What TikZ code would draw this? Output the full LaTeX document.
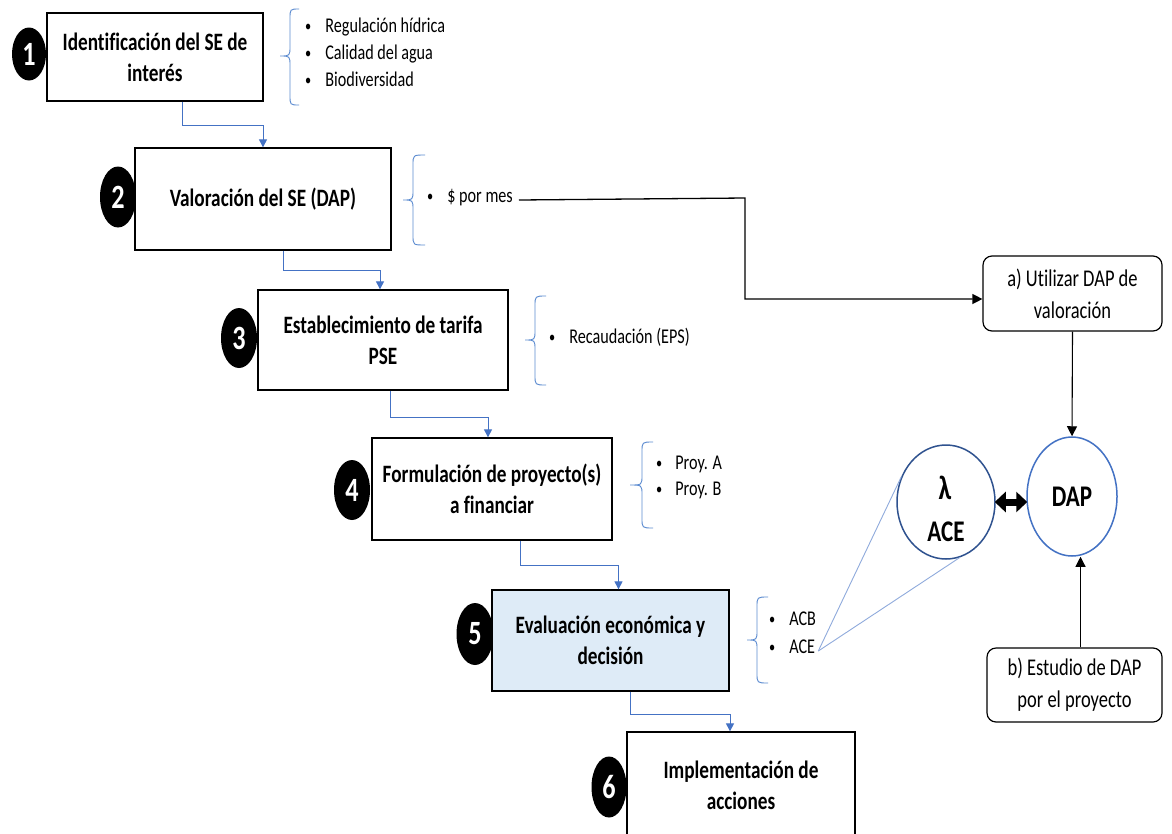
\documentclass[tikz,border=0pt]{standalone}
\usepackage{fontspec}
\setmainfont{Carlito}[FakeStretch=0.77,Ligatures=NoCommon]
\usetikzlibrary{shapes.geometric,arrows.meta}
\definecolor{arrblue}{HTML}{4472C4}
\definecolor{brblue}{HTML}{5B8BD0}
\definecolor{lnblue}{HTML}{8FAADC}
\definecolor{navyc}{HTML}{2F528F}
\definecolor{fillb}{HTML}{DEEBF7}
\newcommand\sebrace[6]{\draw[brc] (#3,#4) .. controls (#2,#4) .. (#2,#4+10) -- (#2,#5-10) .. controls (#2,#5) .. (#1,#5) .. controls (#2,#5) .. (#2,#5+10) -- (#2,#6-10) .. controls (#2,#6) .. (#3,#6);}
\newcommand\smbul{{\fontsize{16}{16}\selectfont\raisebox{1.2pt}{•}}}
\tikzset{
  stepbox/.style={draw=black, line width=1.3pt, fill=white, align=center, inner sep=2pt,
    font=\fontsize{25}{31}\selectfont\bfseries},
  numc/.style={ellipse, fill=black, text=white, inner sep=0pt,
    font=\fontsize{34}{34}\selectfont\bfseries},
  optbox/.style={draw=black, line width=1.2pt, rounded corners=9pt, fill=white, align=center,
    font=\fontsize{24}{32}\selectfont},
  blt/.style={anchor=west, inner sep=0pt, text height=0.7em, text depth=0.2em,
    font=\fontsize{21}{26}\selectfont},
  brc/.style={draw=brblue, line width=0.9pt},
  bluearr/.style={draw=arrblue, line width=1pt, -{Triangle[length=8pt,width=8pt]}},
  blackarr/.style={draw=black, line width=1.4pt, -{Triangle[length=10pt,width=10pt]}},
  zoomln/.style={draw=lnblue, line width=0.9pt},
}
\begin{document}
\begin{tikzpicture}[x=1pt,y=-1pt]
\useasboundingbox (0,0) rectangle (1172,833);
\fill[white] (0,0) rectangle (1172,833);

% number circles
\node[numc, minimum width=34pt, minimum height=53pt] (n1) at (29,54) {1};
\node[numc, minimum width=36pt, minimum height=61pt] (n2) at (118,197) {2};
\node[numc, minimum width=36pt, minimum height=60pt] (n3) at (239,338) {3};
\node[numc, minimum width=36pt, minimum height=60pt] (n4) at (352,490) {4};
\node[numc, minimum width=37pt, minimum height=62pt] (n5) at (475,634) {5};
\node[numc, minimum width=35pt, minimum height=61pt] (n6) at (609,787) {6};

% step boxes
\node[stepbox, minimum width=216pt, minimum height=88pt] (b1) at (155,57) {Identificación del SE de\\interés};
\node[stepbox, minimum width=256pt, minimum height=102pt] (b2) at (263,199) {Valoración del SE (DAP)};
\node[stepbox, minimum width=250pt, minimum height=100pt] (b3) at (383,340) {Establecimiento de tarifa\\PSE};
\node[stepbox, minimum width=240pt, minimum height=102pt] (b4) at (492,489) {Formulación de proyecto(s)\\a financiar};
\node[stepbox, fill=fillb, minimum width=237pt, minimum height=101pt] (b5) at (610.5,640.5) {Evaluación económica y\\decisión};
\node[stepbox, minimum width=228pt, minimum height=120pt, text depth=0pt] (b6) at (741,792) {};
\node[font=\fontsize{25}{31}\selectfont\bfseries, align=center, inner sep=0pt] (t6) at (741,785) {Implementación de\\acciones};

% step connectors
\draw[bluearr] ([xshift=27pt]b1.south) -- ++(0,24) -| (b2.north);
\draw[bluearr] ([xshift=20pt]b2.south) -- ++(0,20) -| ([xshift=-3pt]b3.north);
\draw[bluearr] ([xshift=7pt]b3.south) -- ++(0,27) -| ([xshift=-4pt]b4.north);
\draw[bluearr] ([xshift=28pt]b4.south) -- ++(0,25) -| ([xshift=8pt]b5.north);
\draw[bluearr] ([xshift=20pt]b5.south) -- ++(0,23) -| ([xshift=-11pt]b6.north);

% braces
\sebrace{280}{290}{299}{9}{56}{105}
\sebrace{403}{413}{425}{155}{200}{245}
\sebrace{525}{535}{546}{296}{340}{385}
\sebrace{630}{642}{653}{442}{485}{528}
\sebrace{747}{757}{768}{597}{640}{683}

% bullet lists
\node[blt] (l1a) at (305,30) {\smbul\hspace{14pt}Regulación hídrica};
\node[blt] (l1b) at (305,57) {\smbul\hspace{14pt}Calidad del agua};
\node[blt] (l1c) at (305,84) {\smbul\hspace{14pt}Biodiversidad};
\node[blt] (l2a) at (427,200) {\smbul\hspace{14pt}\$ por mes};
\node[blt] (l3a) at (549,341) {\smbul\hspace{14pt}Recaudación (EPS)};
\node[blt] (l4a) at (656,467) {\smbul\hspace{13pt}Proy. A};
\node[blt] (l4b) at (656,493) {\smbul\hspace{13pt}Proy. B};
\node[blt] (l5a) at (769,623) {\smbul\hspace{14pt}ACB};
\node[blt] (l5b) at (769,651) {\smbul\hspace{14pt}ACE};

% right side
\node[optbox, minimum width=179pt, minimum height=75pt] (ba) at (1072.5,293.5) {a) Utilizar DAP de\\valoración};
\node[optbox, minimum width=175pt, minimum height=74pt] (bb) at (1074.5,685) {b) Estudio de DAP\\por el proyecto};
\node[ellipse, draw=navyc, line width=1.5pt, fill=white, minimum width=98pt, minimum height=114pt, inner sep=0pt] (acec) at (946,502) {};
\node[font=\fontsize{34}{34}\selectfont\bfseries, inner sep=0pt] (lam) at (945,488) {λ};
\node[font=\fontsize{30}{30}\selectfont\bfseries, inner sep=0pt] (acet) at (946,532) {ACE};
\node[ellipse, draw=arrblue, line width=1.5pt, fill=white, minimum width=90pt, minimum height=119pt, inner sep=0pt,
  font=\fontsize{30}{30}\selectfont\bfseries] (dap) at (1072,496.5) {DAP};

\coordinate (k1) at (745,198);
\coordinate (k2) at (745,299);
\draw[blackarr, line width=1.3pt] ([xshift=6pt]l2a.east) -- (k1) -- (k2) -- (ba.west |- k2);
\draw[blackarr, line width=1.1pt] (ba.south) -- (dap.north);
\draw[blackarr, line width=1.1pt] ([xshift=6pt]bb.north) -- ([xshift=6pt]bb.north |- dap.south);
\draw[line width=7pt, {Triangle[length=11pt,width=20pt]}-{Triangle[length=11pt,width=20pt]}] ([xshift=-1pt]acec.east) -- ([xshift=1pt]acec.east -| dap.west);

\draw[zoomln] ([xshift=3pt]l5b.east) -- (acec.151);
\draw[zoomln] ([xshift=3pt]l5b.east) -- (acec.284);
\end{tikzpicture}
\end{document}
